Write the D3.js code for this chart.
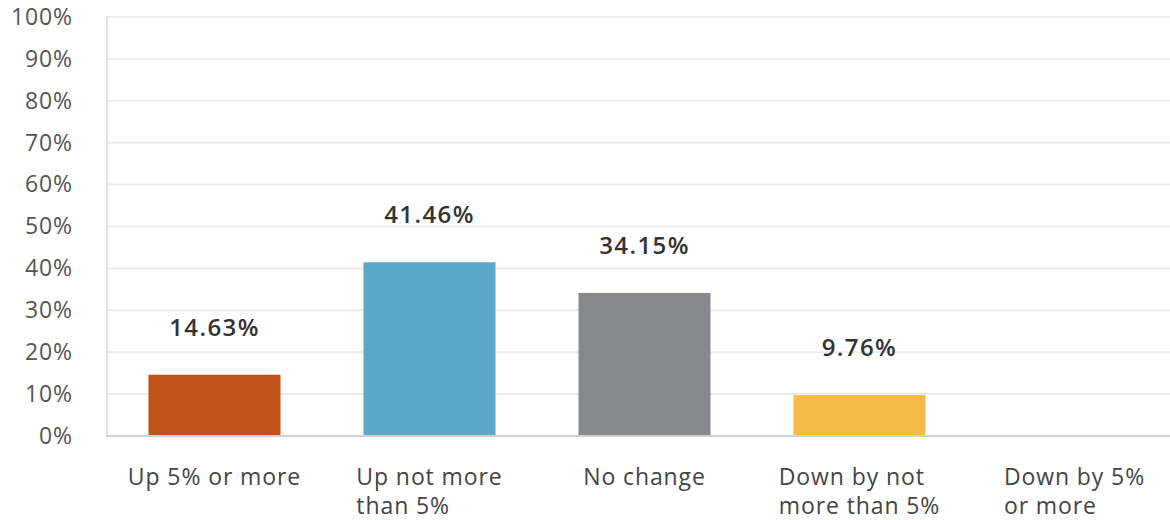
<!DOCTYPE html>
<html>
<head>
<meta charset="utf-8">
<script src="https://cdn.jsdelivr.net/npm/d3@7"></script>
<style>
  html, body { margin: 0; padding: 0; background: #fff; }
  svg { display: block; font-family: "Open Sans", sans-serif; }
</style>
</head>
<body>
<svg id="chart" width="1170" height="520"></svg>
<script>
// Answer choices (each may wrap to two lines) and their response shares (%)
const categories = [
  ["Up 5% or more"],
  ["Up not more", "than 5%"],
  ["No change"],
  ["Down by not", "more than 5%"],
  ["Down by 5%", "or more"]
];
const values = [14.63, 41.46, 34.15, 9.76, 0];
const barColors = ["#c1521a", "#5aaac6", "#87888c", "#f4bb47", "#6b6b6b"];
const yTicks = [0, 10, 20, 30, 40, 50, 60, 70, 80, 90, 100];

const svg = d3.select("#chart");
const margin = { left: 107, right: -12, top: 17, bottom: 84 };
const W = 1170, H = 520;

const x = d3.scaleBand()
  .domain(d3.range(categories.length))
  .range([margin.left, W - margin.right])
  .paddingInner(0.386)
  .paddingOuter(0.193);

const y = d3.scaleLinear()
  .domain([0, 100])
  .range([H - margin.bottom, margin.top]);

// horizontal gridlines
svg.append("g")
  .selectAll("line")
  .data(yTicks.filter(d => d > 0))
  .join("line")
  .attr("x1", margin.left).attr("x2", W)
  .attr("y1", d => y(d)).attr("y2", d => y(d))
  .attr("stroke", "#ececec").attr("stroke-width", 2);

// left axis line
svg.append("line")
  .attr("x1", margin.left).attr("x2", margin.left)
  .attr("y1", y(100) - 1).attr("y2", y(0))
  .attr("stroke", "#e2e2e2").attr("stroke-width", 2);

// y tick labels
const yAxis = d3.axisLeft(y).tickValues(yTicks).tickFormat(d => d + "%").tickSize(0).tickPadding(34);
const gy = svg.append("g").attr("transform", `translate(${margin.left},0)`).call(yAxis);
gy.select(".domain").remove();
gy.selectAll("text")
  .attr("fill", "#555")
  .style("font-size", "23px")
  .style("font-family", "'Open Sans', sans-serif")
  .attr("letter-spacing", "0.9");

// bars
svg.append("g")
  .selectAll("rect")
  .data(values)
  .join("rect")
  .attr("x", (d, i) => x(i))
  .attr("width", x.bandwidth())
  .attr("y", d => y(d))
  .attr("height", d => y(0) - y(d))
  .attr("fill", (d, i) => barColors[i]);

// baseline
svg.append("line")
  .attr("x1", margin.left - 1).attr("x2", W)
  .attr("y1", y(0)).attr("y2", y(0))
  .attr("stroke", "#d0d0d0").attr("stroke-width", 2);

// value labels above bars
svg.append("g")
  .selectAll("text")
  .data(values.map((v, i) => ({ v, i })).filter(d => d.v > 0))
  .join("text")
  .attr("x", d => x(d.i) + x.bandwidth() / 2)
  .attr("y", d => y(d.v) - 39)
  .attr("text-anchor", "middle")
  .attr("fill", "#333")
  .attr("font-weight", 600)
  .attr("letter-spacing", "1.4")
  .style("font-size", "24px")
  .text(d => d.v.toFixed(2) + "%");

// category labels: block centred under the bar, lines left-aligned
const xl = svg.append("g")
  .selectAll("g")
  .data(categories)
  .join("g");

xl.each(function (lines, i) {
  const g = d3.select(this);
  const t = g.append("text")
    .attr("fill", "#444")
    .style("font-size", "23px")
    .attr("letter-spacing", "0.9");
  lines.forEach((ln, j) => {
    t.append("tspan").attr("x", 0).attr("y", 485 + j * 29).text(ln);
  });
  const w = t.node().getBBox().width;
  g.attr("transform", `translate(${x(i) + x.bandwidth() / 2 - w / 2},0)`);
});
</script>
</body>
</html>
